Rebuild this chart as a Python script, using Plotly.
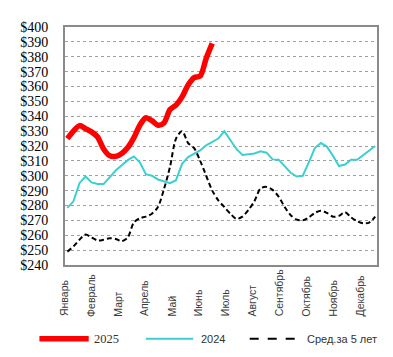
import plotly.graph_objects as go

# ---- data (weekly, week index 0..51) ----
months = ["Январь", "Февраль", "Март", "Апрель", "Май", "Июнь", "Июль",
          "Август", "Сентябрь", "Октябрь", "Ноябрь", "Декабрь"]

y2025 = [325, 330, 333.7, 331.7, 329.5, 326, 318, 313.5, 313, 315, 319, 325.5,
         334, 339, 337, 334, 335.5, 344.5, 347.5, 353, 361, 366, 367, 379, 389]

y2024 = [278.4, 282.8, 295, 299.5, 295.5, 294.4, 294.4, 299, 303.5, 307, 310.5, 313,
         309, 301, 300, 297.5, 296.5, 295, 297, 308, 312.5, 315, 317, 320.5, 323, 325,
         330, 324, 318, 314, 314.5, 315, 316.5, 315.5, 311, 310.7, 306.5, 302, 299.5, 300,
         309, 318.6, 322, 319.6, 313.5, 306.5, 307.5, 310.7, 310.7, 314, 317, 320]

avg5 = [249, 252.5, 257, 260.5, 258.5, 256.5, 257, 258, 257.5, 256, 258.5, 268.5,
        271.5, 272.5, 274.5, 279, 291, 306, 325, 330, 322, 318.5, 310, 300, 290, 283.5,
        279, 274.5, 271, 272.5, 277, 283, 291.5, 292.5, 290.5, 286, 279, 273.5, 270.5, 270,
        272, 275, 276.5, 275, 272.5, 273, 275.5, 272, 269.5, 268, 268.5, 272.5]

names = ["2025", "2024", "Сред.за 5 лет"]

weeks_2025 = list(range(len(y2025)))
weeks_all = list(range(len(y2024)))
month_pos = [i * 4.45 - 0.55 for i in range(len(months))]

XR = [-0.4, 51.3]
SERIF = "Liberation Serif"

fig = go.Figure()
fig.add_trace(go.Scatter(x=weeks_all, y=avg5, mode="lines", name=names[2],
                         line=dict(color="black", width=2, dash="5px,3px", shape="spline", smoothing=0.8)))
fig.add_trace(go.Scatter(x=weeks_all, y=y2024, mode="lines", name=names[1],
                         line=dict(color="#3CCFCF", width=2)))
fig.add_trace(go.Scatter(x=weeks_2025, y=y2025, mode="lines", name=names[0],
                         line=dict(color="#FF0000", width=5.5, shape="spline", smoothing=0.8)))

fig.update_layout(
    width=393, height=357,
    margin=dict(l=53, r=24, t=12, b=100),
    paper_bgcolor="white", plot_bgcolor="white",
    showlegend=False,
    xaxis=dict(range=XR, showticklabels=False, showgrid=False, zeroline=False,
               showline=True, linecolor="#8a8a8a", linewidth=2, mirror=True, ticks=""),
    yaxis=dict(range=[240, 400], dtick=10, tickprefix="$", zeroline=False,
               showgrid=True, gridcolor="#a0a0a0", griddash="dot", gridwidth=1,
               showline=True, linecolor="#8a8a8a", linewidth=2, mirror=True,
               ticks="", ticklabelstandoff=12,
               tickfont=dict(family=SERIF, size=14, color="black")),
)

# month labels (rotated, bottom aligned)
for m, xp in zip(months, month_pos):
    px = (xp - XR[0]) / (XR[1] - XR[0])
    fig.add_annotation(x=px, y=-0.2245, xref="paper", yref="paper", text=m, showarrow=False,
                       textangle=-90, xanchor="center", yanchor="bottom",
                       font=dict(family="Liberation Sans", size=10.5, color="#3a3a3a"))

# legend (manual)
ly = -0.31
legend_items = [
    (names[0], "#FF0000", 5.5, "solid", -0.082, 0.076, 0.085, SERIF, 12.5),
    (names[1], "#3CCFCF", 2, "solid", 0.259, 0.411, 0.43, "Liberation Sans", 11),
    (names[2], "black", 2, "dash", 0.592, 0.750, 0.77, "Liberation Sans", 11),
]
for txt, col, w, dsh, x0, x1, tx, fam, fs in legend_items:
    fig.add_shape(type="line", xref="paper", yref="paper", x0=x0, x1=x1, y0=ly, y1=ly,
                  line=dict(color=col, width=w, dash=dsh))
    fig.add_annotation(x=tx, y=ly, xref="paper", yref="paper", text=txt, showarrow=False,
                       xanchor="left", yanchor="middle", font=dict(family=fam, size=fs, color="#333"))

fig.write_html("out.html")
